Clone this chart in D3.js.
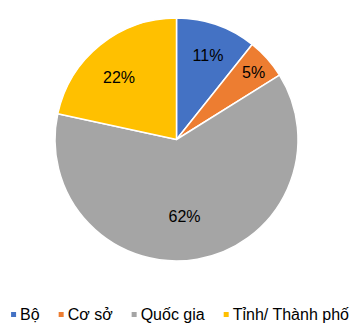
<!DOCTYPE html>
<html>
<head>
<meta charset="utf-8">
<script src="https://cdn.jsdelivr.net/npm/d3@7"></script>
<style>
  body { margin: 0; background: #fff; }
  svg { display: block; font-family: Arial, "Liberation Sans", sans-serif; }
</style>
</head>
<body>
<div id="chart"></div>
<script>
// data
const categories = ["Bộ", "Cơ sở", "Quốc gia", "Tỉnh/ Thành phố"];
const shares = [10.7, 5.4, 62.3, 21.6];
const labels = ["11%", "5%", "62%", "22%"];

const colors = ["#4472C4", "#ED7D31", "#A5A5A5", "#FFC000"];

const width = 360, height = 324;
const cx = 176.5, cy = 139.5, radius = 121.5;

// small hand nudges so the labels sit where Excel put them
const nudge = [[3.5, -4.3], [13.7, -10.3], [-6.6, -7.2], [-4.1, 4.1]];

const svg = d3.select("#chart")
    .append("svg")
    .attr("width", width)
    .attr("height", height);

const pie = d3.pie().sort(null).value(d => d);
const arcs = pie(shares);

const arc = d3.arc().innerRadius(0).outerRadius(radius);
const labelArc = d3.arc().innerRadius(85).outerRadius(85);

const g = svg.append("g")
    .attr("transform", `translate(${cx},${cy})`);

g.selectAll("path")
    .data(arcs)
    .enter()
    .append("path")
        .attr("d", arc)
        .attr("fill", (d, i) => colors[i])
        .attr("stroke", "#fff")
        .attr("stroke-width", 1.5)
        .attr("stroke-linejoin", "round");

g.selectAll("text.lbl")
    .data(arcs)
    .enter()
    .append("text")
        .attr("class", "lbl")
        .attr("x", (d, i) => labelArc.centroid(d)[0] + nudge[i][0])
        .attr("y", (d, i) => labelArc.centroid(d)[1] + nudge[i][1])
        .attr("dy", "0.35em")
        .attr("text-anchor", "middle")
        .attr("font-size", 16)
        .attr("fill", "#000")
        .text((d, i) => labels[i]);

// legend, centred under the pie
const legend = svg.append("g");
const items = legend.selectAll("g")
    .data(categories)
    .enter()
    .append("g");

items.append("rect")
    .attr("width", 5)
    .attr("height", 5)
    .attr("y", 312)
    .attr("fill", (d, i) => colors[i]);

items.append("text")
    .attr("x", 9)
    .attr("y", 320)
    .attr("font-size", 16)
    .attr("fill", "#000")
    .text(d => d);

let x = 0;
const widths = [];
items.each(function() {
    widths.push(d3.select(this).select("text").node().getComputedTextLength());
});
items.attr("transform", (d, i) => {
    const pos = x;
    x += 9 + widths[i] + 19;
    return `translate(${pos},0)`;
});
const total = x - 19;
legend.attr("transform", `translate(${180 - total / 2},0)`);
</script>
</body>
</html>
